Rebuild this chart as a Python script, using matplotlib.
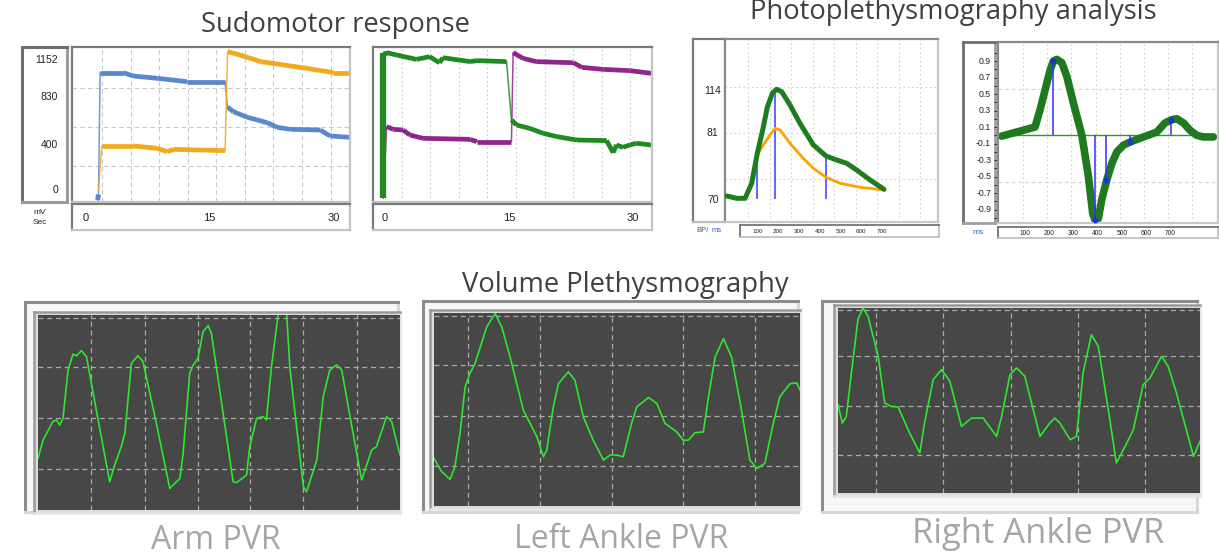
import numpy as np
import matplotlib
matplotlib.use("Agg")
import matplotlib.pyplot as plt
import matplotlib.transforms as mtransforms

# ---- sudomotor response (seconds, mV) ----
sudo_yticks = [0, 400, 830, 1152]
sudo_xticks = [0, 15, 30]

blue_t = [1.5, 1.6, 1.8, 4.6, 5.8, 8.7, 12.3, 16.9, 17.2, 17.9, 19.6, 22.0, 23.2, 24.8, 28.4, 29.6, 32.0]
blue_v = [-90, -40, 1043, 1043, 1013, 993, 963, 963, 737, 696, 646, 598, 557, 539, 533, 480, 468]
orange_t = [1.6, 2.0, 5.8, 8.7, 9.9, 10.7, 16.9, 17.2, 18.7, 21.2, 24.0, 26.8, 30.0, 32.0]
orange_v = [0, 391, 391, 370, 341, 361, 350, 1230, 1200, 1141, 1111, 1081, 1043, 1043]

green_t = [-0.2, -0.2, 0.2, 1.4, 3.8, 5.4, 6.6, 7.0, 10.3, 11.1, 14.7, 15.3, 15.9, 17.5, 19.1,
           20.8, 23.2, 26.8, 27.6, 28.0, 28.8, 29.6, 30.4, 32.2]
green_v = [-71, 1221, 1221, 1200, 1161, 1185, 1131, 1176, 1141, 1150, 1141, 622, 578, 548, 504,
           474, 444, 439, 332, 400, 379, 400, 415, 400]
purple_t = [-0.2, 0.2, 1.0, 2.2, 3.0, 4.6, 10.3, 11.1, 15.3, 15.5, 16.7, 18.3, 22.8, 23.8, 26.4, 29.6, 32.2]
purple_v = [-71, 563, 539, 533, 489, 459, 450, 430, 430, 1221, 1170, 1141, 1131, 1090, 1072, 1061, 1037]

# ---- photoplethysmography: pressure waveform (ms, relative height) ----
bp_ticks = [131, 89, 22]
bp_labels = ["114", "81", "70"]
bp_ms_ticks = [100, 200, 300, 400, 500, 600, 700]
bp_green_t = [-50, -2, 39, 71, 98, 124, 147, 172, 192, 216, 256, 304, 369, 430, 481, 530, 578, 643, 710]
bp_green_v = [26, 23.7, 23.7, 38.7, 68.7, 92, 115.3, 129.3, 132.7, 130.3, 117, 98.7, 77, 66, 62, 58.7, 52, 42, 32.7]
bp_orange_t = [98, 127, 159, 184, 208, 256, 320, 369, 430, 498, 594, 710]
bp_orange_v = [67, 77, 87, 93.7, 92, 78.7, 63.7, 53.7, 44.7, 38.7, 34.7, 32]
bp_mark_t = [98, 184, 430]
bp_mark_v = [67, 132.7, 66]

# ---- photoplethysmography: derivative (ms, a.u.) ----
dv_labels = [0.9, 0.7, 0.5, 0.3, 0.1, -0.1, -0.3, -0.5, -0.7, -0.9]
dv_ms_ticks = [100, 200, 300, 400, 500, 600, 700]
dv_t = [3.6, 141, 162, 203.6, 217, 231, 252, 273, 300, 335, 362, 380, 390, 403, 417, 438, 459,
        480, 507, 535, 590, 645, 679, 707, 728, 755, 783, 810, 838, 879]
dv_v = [-0.01, 0.10, 0.31, 0.79, 0.90, 0.92, 0.88, 0.71, 0.39, 0.0, -0.50, -0.95, -1.03, -1.01,
        -0.78, -0.54, -0.34, -0.20, -0.12, -0.08, -0.02, 0.04, 0.15, 0.19, 0.20, 0.15, 0.06, 0.0, -0.02, -0.02]
dv_mark_t = [217, 388, 436, 532, 705]
dv_mark_v = [0.90, -1.03, -0.54, -0.08, 0.19]

# ---- volume plethysmography (samples, amplitude %) ----
arm_t = [0, 1.4, 4.1, 5.1, 6.0, 6.9, 8.3, 9.7, 10.6, 12.0, 13.4, 16.1, 19.8, 21.2, 23.0, 24.0, 25.8,
         27.6, 29.0, 32.7, 36.4, 39.2, 40.1, 41.9, 42.9, 44.2, 45.6, 47.0, 47.9, 50.2, 53.9, 54.8,
         57.6, 58.5, 60.4, 62.2, 63.1, 64.5, 67.0, 68.7, 69.6, 73.3, 74.2, 77.0, 78.8, 80.6, 82.5,
         83.9, 85.7, 89.4, 92.2, 93.5, 96.3, 97.7, 100]
arm_amp = [26.5, 35.9, 45.3, 46.2, 43.6, 47.0, 71.8, 80.0, 79.0, 81.7, 78.6, 51.3, 14.5, 23.1, 32.5,
           39.3, 75.2, 79.1, 76.1, 44.4, 11.1, 16.2, 29.1, 70.1, 74.4, 77.8, 91.5, 94.5, 90.6, 61.5,
           14.5, 14.0, 17.9, 32.5, 47.0, 47.9, 46.2, 73.5, 110, 100, 72.6, 12.0, 9.4, 25.6, 58.1,
           71.8, 74.4, 71.8, 53.0, 15.4, 30.8, 32.5, 47.9, 45.3, 28.2]
left_t = [0, 2.1, 4.4, 5.7, 7.1, 8.5, 9.8, 11.2, 14.4, 16.7, 18.5, 20.8, 24.4, 28.1, 29.9, 30.8,
          32.6, 34.0, 36.7, 38.5, 40.8, 43.5, 46.3, 48.1, 49.9, 51.7, 54.0, 55.4, 58.6, 60.9, 63.1,
          66.3, 68.1, 69.5, 71.3, 73.6, 75.0, 76.8, 79.1, 81.3, 83.7, 86.3, 88.2, 90.4, 92.7, 94.5,
          97.3, 99.1, 100]
left_amp = [24.7, 17.8, 13.8, 20.3, 37.6, 61.7, 68.6, 73.8, 92.8, 99.7, 92.8, 77.2, 49.7, 35.9, 25.5,
            29.0, 51.4, 63.4, 69.5, 65.2, 46.2, 34.1, 23.8, 26.4, 26.4, 25.5, 42.8, 51.4, 56.2, 53.1,
            42.8, 38.4, 34.1, 34.1, 37.9, 38.4, 56.6, 77.2, 86.7, 77.2, 53.1, 23.8, 19.5, 22.1, 42.8,
            56.6, 63.4, 63.8, 60.0]
right_t = [0, 1.2, 2.3, 3.7, 5.5, 6.9, 8.3, 11.1, 12.9, 14.7, 16.6, 19.8, 22.6, 23.9, 26.3, 28.6,
           30.9, 34.1, 36.9, 40.1, 43.8, 45.2, 47.5, 49.3, 51.6, 55.8, 58.5, 59.9, 61.3, 64.1, 65.9,
           67.7, 70.0, 71.9, 75.1, 76.9, 79.3, 81.6, 84.3, 86.2, 89.4, 91.2, 93.5, 98.2, 100]
right_amp = [47.7, 37.8, 41.4, 64.9, 93.7, 100, 95.5, 73.9, 48.6, 46.8, 46.5, 32.4, 21.6, 37.8, 61.3,
             66.7, 60.4, 36.0, 40.5, 40.5, 30.6, 41.4, 63.9, 67.6, 63.1, 30.6, 37.8, 40.5, 37.8, 28.8,
             30.6, 64.9, 85.6, 79.3, 39.6, 16.2, 25.2, 34.2, 58.6, 62.2, 73.9, 68.5, 54.1, 19.8, 27.9]

W, H = 1219, 557
fig = plt.figure(figsize=(W / 100, H / 100), dpi=100)
fig.patch.set_facecolor("white")
TITLE = "#404040"


def px_axes(x0, y0, x1, y1, **kw):
    # box given in picture pixels, top-left origin
    return fig.add_axes([x0 / W, 1 - y1 / H, (x1 - x0) / W, (y1 - y0) / H], **kw)


def bare(ax, dark="#7a7a7a", light="#c4c4c4", lw=1.6):
    ax.set_xticks([])
    ax.set_yticks([])
    for s in ["top", "left"]:
        ax.spines[s].set_color(dark)
        ax.spines[s].set_linewidth(lw)
    for s in ["bottom", "right"]:
        ax.spines[s].set_color(light)
        ax.spines[s].set_linewidth(lw)


def fig_text(x, y, s, **kw):
    return fig.text(x / W, 1 - y / H, s, **kw)


def sudo_trace(ax, t, v, color):
    t = np.asarray(t, float)
    v = np.asarray(v, float)
    ax.plot(t, v, color=color, lw=1.1, alpha=0.85)
    dt = np.diff(t)
    dv = np.abs(np.diff(v))
    for i in range(len(t) - 1):
        if dt[i] > 0 and dv[i] / dt[i] < 300:
            ax.plot(t[i:i + 2], v[i:i + 2], color=color, lw=3.4, solid_capstyle="butt")


small = dict(family="Liberation Sans", color="#222222")

# ================= Sudomotor response =================
fig_text(335, 32, "Sudomotor response", ha="center", va="baseline",
         family="Open Sans", fontsize=19.7, color=TITLE)

SUDO_Y = (-107, 1271)
for (x0, x1, xl, t1, v1, c1, t2, v2, c2, ls, show_y) in [
    (72, 350, (-1.6, 32.0), blue_t, blue_v, "#5b87cc", orange_t, orange_v, "#f2a91e", (0, (4, 3)), True),
    (373, 652, (-1.45, 32.3), green_t, green_v, "#1f8a1f", purple_t, purple_v, "#8e268e", (0, (1.5, 2.5)), False),
]:
    ax = px_axes(x0, 47, x1, 202)
    bare(ax)
    ax.set_xlim(*xl)
    ax.set_ylim(*SUDO_Y)
    for g in np.arange(2.05, 32, 3.45):
        ax.axvline(g, color="#c9c9c9", lw=0.8, ls=ls, zorder=0)
    if show_y:
        for g in [213, 560, 907]:
            ax.axhline(g, color="#c9c9c9", lw=0.8, ls=(0, (4, 3)), zorder=0)
    if c1 == "#1f8a1f":
        sudo_trace(ax, t2, v2, c2)
        sudo_trace(ax, t1, v1, c1)
        ax.plot(t1[:2], v1[:2], color=c1, lw=4.5, solid_capstyle="butt")
    else:
        sudo_trace(ax, t1, v1, c1)
        sudo_trace(ax, t2, v2, c2)
        ax.plot(t1[:2], v1[:2], color=c1, lw=3.5, solid_capstyle="butt")

    axb = px_axes(x0, 204, x1, 230)
    bare(axb)
    axb.set_xlim(*xl)
    axb.set_ylim(0, 1)
    for v in sudo_xticks:
        axb.text(v, 0.45, str(v), ha="center", va="center", fontsize=8, **small)

    if show_y:
        lab = px_axes(22, 47, 67, 202)
        bare(lab, dark="#6e6e6e", light="#9a9a9a", lw=2.2)
        lab.set_ylim(*SUDO_Y)
        tr = mtransforms.blended_transform_factory(lab.transAxes, lab.transData)
        for v in sudo_yticks:
            lab.text(0.8, v, str(v), transform=tr, ha="right", va="center", fontsize=7.5, **small)

fig_text(40, 212, "mV", ha="center", va="center", fontsize=6, **small)
fig_text(40, 222, "Sec", ha="center", va="center", fontsize=6, **small)

# ================= Photoplethysmography analysis =================
fig_text(750, 19, "Photoplethysmography analysis", ha="left", va="baseline",
         family="Open Sans", fontsize=19.7, color=TITLE)

# pressure waveform
lab3 = px_axes(693, 39, 725, 222)
bare(lab3, dark="#7a7a7a", light="#bcbcbc")
lab3.set_ylim(0, 183)
tr = mtransforms.blended_transform_factory(lab3.transAxes, lab3.transData)
for v, s in zip(bp_ticks, bp_labels):
    lab3.text(0.62, v, s, transform=tr, ha="center", va="center", fontsize=7.5, **small)

ax3 = px_axes(725, 39, 938, 222)
bare(ax3, dark="#8a8a8a", light="#c8c8c8")
ax3.set_xlim(-58, 971)
ax3.set_ylim(0, 183)
for g in np.arange(53, 971, 104):
    ax3.axvline(g, color="#d0d0d0", lw=0.8, ls=(0, (1.5, 2.5)), zorder=0)
for g in [43, 89.3, 135.3]:
    ax3.axhline(g, color="#d0d0d0", lw=0.8, ls=(0, (1.5, 2.5)), zorder=0)
ax3.vlines(bp_mark_t, 22.7, bp_mark_v, color="#3a3aff", lw=1.1, zorder=2)
ax3.plot(bp_orange_t, bp_orange_v, color="#ffa200", lw=2.0, zorder=3)
ax3.plot(bp_green_t, bp_green_v, color="#1e7d1e", lw=3.6, zorder=4, solid_capstyle="round")

axb3 = px_axes(740, 225, 939, 237)
bare(axb3, dark="#6a6a6a", light="#bbbbbb", lw=1.2)
axb3.set_xlim(14.5, 976)
axb3.set_ylim(0, 1)
for v in bp_ms_ticks:
    axb3.text(v, 0.45, str(v), ha="center", va="center", fontsize=4.5, **small)
fig_text(703, 231, "BP/", ha="center", va="center", fontsize=5.5, family="Liberation Sans", color="#555555")
fig_text(717, 231, "ms", ha="center", va="center", fontsize=5.5, family="Liberation Sans", color="#3b5fc4")

# derivative
lab4 = px_axes(963, 42, 995, 223)
bare(lab4, dark="#6e6e6e", light="#a0a0a0", lw=2.0)
lab4.set_ylim(-1.063, 1.131)
tr = mtransforms.blended_transform_factory(lab4.transAxes, lab4.transData)
for v in dv_labels:
    lab4.text(0.88, v, f"{v:.1f}", transform=tr, ha="right", va="center", fontsize=6.3, **small)

ax4 = px_axes(998, 42, 1218, 223)
bare(ax4, dark="#8a8a8a", light="#c8c8c8")
ax4.set_xlim(-12, 898)
ax4.set_ylim(-1.063, 1.131)
ax4.set_yticks(np.round(np.arange(-1.0, 1.05, 0.1), 1))
ax4.set_yticklabels([])
ax4.tick_params(axis="y", direction="out", length=3, width=0.8, color="#333333")
for g in np.arange(92, 898, 100):
    ax4.axvline(g, color="#d0d0d0", lw=0.8, ls=(0, (1.5, 2.5)), zorder=0)
for g in [-0.56, 0.56]:
    ax4.axhline(g, color="#d0d0d0", lw=0.8, ls=(0, (3, 3)), zorder=0)
ax4.plot([dv_t[0], dv_t[-1]], [0, 0], color="#2e9a2e", lw=1.0, zorder=1)
ax4.plot(dv_t, dv_v, color="#1f7a1f", lw=5.5, zorder=2, solid_capstyle="round")
ax4.vlines(dv_mark_t, 0, dv_mark_v, color="#3030ff", lw=1.1, zorder=3)
ax4.plot(dv_mark_t, dv_mark_v, "o", color="#2030e0", ms=3.2, zorder=4)

axb4 = px_axes(998, 227, 1218, 238)
bare(axb4, dark="#6a6a6a", light="#bbbbbb", lw=1.2)
axb4.set_xlim(-12, 898)
axb4.set_ylim(0, 1)
for v in dv_ms_ticks:
    axb4.text(v, 0.45, str(v), ha="center", va="center", fontsize=4.8, **small)
fig_text(978, 233, "ms", ha="center", va="center", fontsize=6, family="Liberation Sans", color="#4060c0")

# ================= Volume plethysmography =================
fig_text(625, 292, "Volume Plethysmography", ha="center", va="baseline",
         family="Open Sans", fontsize=19.7, color=TITLE)

panels = [
    ((25, 302, 398, 512), (38, 315, 400, 510), arm_t, arm_amp,
     [98.3, 73.2, 47.0, 21.0], [14.7, 29.5, 44.2, 58.5, 73.3, 88.0], "Arm PVR", (216, 549), 23),
    ((423, 301, 798, 512), (434, 313, 800, 506), left_t, left_amp,
     [98.3, 72.9, 46.7, 20.9], [9.4, 29.0, 48.5, 68.1, 87.7], "Left Ankle PVR", (621, 548), 23),
    ((822, 301, 1197, 512), (838, 308, 1200, 493), right_t, right_amp,
     [99.1, 73.9, 47.2, 20.7], [10.6, 29.0, 47.9, 66.4, 84.8], "Right Ankle PVR", (1038, 543), 24.8),
]
for outer, inner, t, a, hg, vg, name, (cx, cy), fs in panels:
    fr = px_axes(*outer)
    fr.set_facecolor("#f7f7f7")
    bare(fr, dark="#8c8c8c", light="#d8d8d8", lw=2.2)
    x0, y0, x1, y1 = inner
    strip = px_axes(x0 - 4, y0 - 3, x1, y1 + 3)
    strip.set_facecolor("#dcdcdc")
    bare(strip, dark="#9a9a9a", light="#e6e6e6", lw=1.8)
    ax = px_axes(*inner)
    ax.set_facecolor("#474747")
    ax.set_xlim(0, 100)
    ax.set_ylim(0, 100)
    ax.set_xticks([])
    ax.set_yticks([])
    for s in ax.spines.values():
        s.set_visible(False)
    for g in hg:
        ax.axhline(g, color="#a9a9a9", lw=0.9, ls=(0, (4, 3)), zorder=1)
    for g in vg:
        ax.axvline(g, color="#a9a9a9", lw=0.9, ls=(0, (4, 3)), zorder=1)
    ax.plot(t, a, color="#2ee62e", lw=1.2, zorder=2)
    fig_text(cx, cy, name, ha="center", va="baseline", family="Open Sans",
             fontsize=fs, color="#a6a6a6")

plt.savefig("out.png", dpi=100, facecolor="white")
